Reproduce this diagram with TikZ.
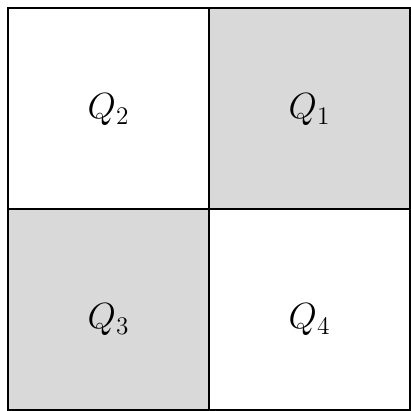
\documentclass[tikz,border=0pt]{standalone}
\begin{document}
\begin{tikzpicture}[x=0.02cm,y=-0.02cm,
  cell/.style={draw=black,line width=1.4pt},
  shaded/.style={cell,fill=black!15},
  lab/.style={font=\fontsize{21}{25}\selectfont}]
\useasboundingbox (0,0) rectangle (411,410);
\draw[cell] (8,8) rectangle (209,209);
\draw[shaded] (209,8) rectangle (410,209);
\draw[shaded] (8,209) rectangle (209,410);
\draw[cell] (209,209) rectangle (410,410);
\node[lab] (q2) at (108.5,110) {$Q_2$};
\node[lab] (q1) at (309.5,110) {$Q_1$};
\node[lab] (q3) at (108.5,320) {$Q_3$};
\node[lab] (q4) at (309.5,320) {$Q_4$};
\end{tikzpicture}
\end{document}
